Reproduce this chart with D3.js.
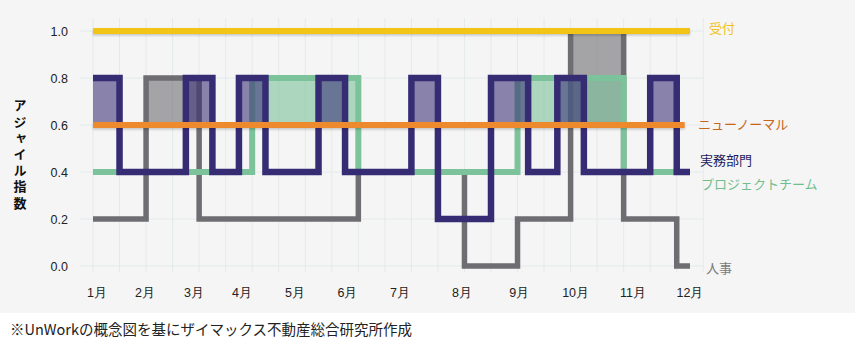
<!DOCTYPE html>
<html lang="ja">
<head>
<meta charset="utf-8">
<script src="https://cdn.jsdelivr.net/npm/d3@7"></script>
<style>
  body { margin: 0; background: #ffffff; }
  svg { display: block; font-family: "DejaVu Sans", "Noto Sans CJK JP", sans-serif; }
  .tick-label { font-size: 12.5px; fill: #222222; }
  .series-label { font-family: "Noto Sans CJK JP", sans-serif; font-size: 13px; }
  .y-title { writing-mode: vertical-rl; text-orientation: upright; letter-spacing: 3.2px; }
</style>
</head>
<body>
<div id="chart"></div>
<script>
// Agile index by month, step values
const jitsumuX = [0, 1, 3.5, 4.5, 5.5, 6.5, 8.5, 9.5, 12, 13, 15, 16.4, 17.5, 18.5, 21, 22, 22.5];
const jitsumuY = [0.8, 0.4, 0.8, 0.4, 0.8, 0.4, 0.8, 0.4, 0.8, 0.2, 0.8, 0.4, 0.8, 0.4, 0.8, 0.4, 0.4];

const projectX = [0, 6, 10, 16, 20, 22.5];
const projectY = [0.4, 0.8, 0.4, 0.8, 0.4, 0.4];

const jinjiX = [0, 2, 4, 10, 14, 16, 18, 20, 22, 22.5];
const jinjiY = [0.2, 0.8, 0.2, 0.4, 0.0, 0.2, 1.0, 0.2, 0.0, 0.0];

const uketsukeX = [0, 22.5];
const uketsukeY = [1.0, 1.0];

const newNormalX = [0, 22.3];
const newNormalY = [0.6, 0.6];

const monthLabels = ["1月", "2月", "3月", "4月", "5月", "6月", "7月", "8月", "9月", "10月", "11月", "12月"];
const monthTicks = [0.13, 1.94, 3.79, 5.6, 7.59, 9.57, 11.55, 13.89, 16.04, 18.17, 20.33, 22.48];
const yTicks = [0, 0.2, 0.4, 0.6, 0.8, 1.0];
const gridX = d3.range(0, 24);

const yTitle = "アジャイル指数";
const caption = "※UnWorkの概念図を基にザイマックス不動産総合研究所作成";

const width = 857;
const height = 364;

const xScale = d3.scaleLinear().domain([0, 22.5]).range([93, 690]);
const yScale = d3.scaleLinear().domain([0, 1]).range([266, 31]);

const toPoints = (xs, ys) => xs.map((x, i) => ({ x: x, v: ys[i] }));

const svg = d3.select("#chart")
    .append("svg")
    .attr("width", width)
    .attr("height", height);

// soft shadow under the flat reference lines (user space, the paths have no height)
const defs = svg.append("defs");
defs.append("filter")
    .attr("id", "shadow")
    .attr("filterUnits", "userSpaceOnUse")
    .attr("x", 0).attr("y", 0)
    .attr("width", width).attr("height", height)
    .append("feDropShadow")
    .attr("dx", 0)
    .attr("dy", 1.5)
    .attr("stdDeviation", 1.2)
    .attr("flood-color", "#000")
    .attr("flood-opacity", 0.2);

// panel background
svg.append("rect")
    .attr("x", 0)
    .attr("y", 0)
    .attr("width", 855)
    .attr("height", 313)
    .attr("fill", "#f5f5f5");

/*************/
/* Gridlines */
/*************/
const grid = svg.append("g").attr("class", "grid");

grid.selectAll("line.v")
    .data(gridX)
    .join("line")
    .attr("class", "v")
    .attr("x1", d => xScale(d))
    .attr("x2", d => xScale(d))
    .attr("y1", 18)
    .attr("y2", 272)
    .attr("stroke", "#e4eaea")
    .attr("stroke-width", 1);

grid.selectAll("line.h")
    .data(yTicks)
    .join("line")
    .attr("class", "h")
    .attr("x1", xScale(-0.5))
    .attr("x2", xScale(23))
    .attr("y1", d => yScale(d))
    .attr("y2", d => yScale(d))
    .attr("stroke", "#e4eaea")
    .attr("stroke-width", 1);

/**********/
/* Axes   */
/**********/
const leftAxis = d3.axisLeft(yScale)
    .tickValues(yTicks)
    .tickFormat(d3.format(".1f"))
    .tickSize(0)
    .tickPadding(0);

const yAxisGroup = svg.append("g")
    .attr("transform", "translate(68,0)")
    .call(leftAxis);
yAxisGroup.select(".domain").remove();
yAxisGroup.selectAll("text")
    .attr("class", "tick-label")
    .attr("font-family", null)
    .attr("font-size", null);

const bottomAxis = d3.axisBottom(xScale)
    .tickValues(monthTicks)
    .tickFormat((d, i) => monthLabels[i])
    .tickSize(0)
    .tickPadding(0);

const xAxisGroup = svg.append("g")
    .attr("transform", "translate(0,288)")
    .call(bottomAxis);
xAxisGroup.select(".domain").remove();
xAxisGroup.selectAll("text")
    .attr("class", "tick-label")
    .attr("font-family", null)
    .attr("font-size", null);

// vertical y-axis title
svg.append("text")
    .attr("class", "y-title")
    .attr("x", 20)
    .attr("y", 99)
    .attr("font-family", "Noto Sans CJK JP, sans-serif")
    .attr("font-size", 13)
    .attr("font-weight", "bold")
    .attr("fill", "#111111")
    .text(yTitle);

/*****************/
/* Step series   */
/*****************/
const baseline = 0.6;

const area = d3.area()
    .curve(d3.curveStepAfter)
    .x(d => xScale(d.x))
    .y0(yScale(baseline))
    .y1(d => yScale(Math.max(d.v, baseline)));

const line = d3.line()
    .curve(d3.curveStepAfter)
    .x(d => xScale(d.x))
    .y(d => yScale(d.v));

const stepSeries = [
    { name: "人事", points: toPoints(jinjiX, jinjiY), stroke: "#6e6d72", fill: "#6e6d72", width: 5.5, alpha: 0.6 },
    { name: "プロジェクトチーム", points: toPoints(projectX, projectY), stroke: "#7cc29a", fill: "#7cc29a", width: 6, alpha: 0.6 },
    { name: "実務部門", points: toPoints(jitsumuX, jitsumuY), stroke: "#362c74", fill: "#362c74", width: 6.5, alpha: 0.57 }
];

const seriesG = svg.append("g");
stepSeries.forEach(s => {
    seriesG.append("path")
        .datum(s.points)
        .attr("d", area)
        .attr("fill", s.fill)
        .attr("fill-opacity", s.alpha);
    seriesG.append("path")
        .datum(s.points)
        .attr("d", line)
        .attr("fill", "none")
        .attr("stroke", s.stroke)
        .attr("stroke-width", s.width)
        .attr("stroke-linejoin", "miter");
});

// flat reference lines on top
const flatSeries = [
    { points: toPoints(newNormalX, newNormalY), stroke: "#ee8a2d" },
    { points: toPoints(uketsukeX, uketsukeY), stroke: "#f2c419" }
];
flatSeries.forEach(s => {
    svg.append("path")
        .datum(s.points)
        .attr("d", line)
        .attr("fill", "none")
        .attr("stroke", s.stroke)
        .attr("stroke-width", 6)
        .attr("filter", "url(#shadow)");
});

/*******************/
/* Series labels   */
/*******************/
const labels = [
    { text: "受付", x: 709, y: 28, color: "#f2c21c" },
    { text: "ニューノーマル", x: 698, y: 124, color: "#c9661d" },
    { text: "実務部門", x: 700, y: 160, color: "#1c1c5c" },
    { text: "プロジェクトチーム", x: 701, y: 184, color: "#6fbe8e" },
    { text: "人事", x: 706, y: 268, color: "#7b7b7b" }
];
svg.append("g")
    .selectAll("text")
    .data(labels)
    .join("text")
    .attr("class", "series-label")
    .attr("x", d => d.x)
    .attr("y", d => d.y)
    .attr("dy", "0.35em")
    .attr("fill", d => d.color)
    .text(d => d.text);

// source note under the panel
svg.append("text")
    .attr("x", 10)
    .attr("y", 335)
    .attr("font-family", "Noto Sans CJK JP, sans-serif")
    .attr("font-size", 14.5)
    .attr("fill", "#222222")
    .text(caption);
</script>
</body>
</html>
